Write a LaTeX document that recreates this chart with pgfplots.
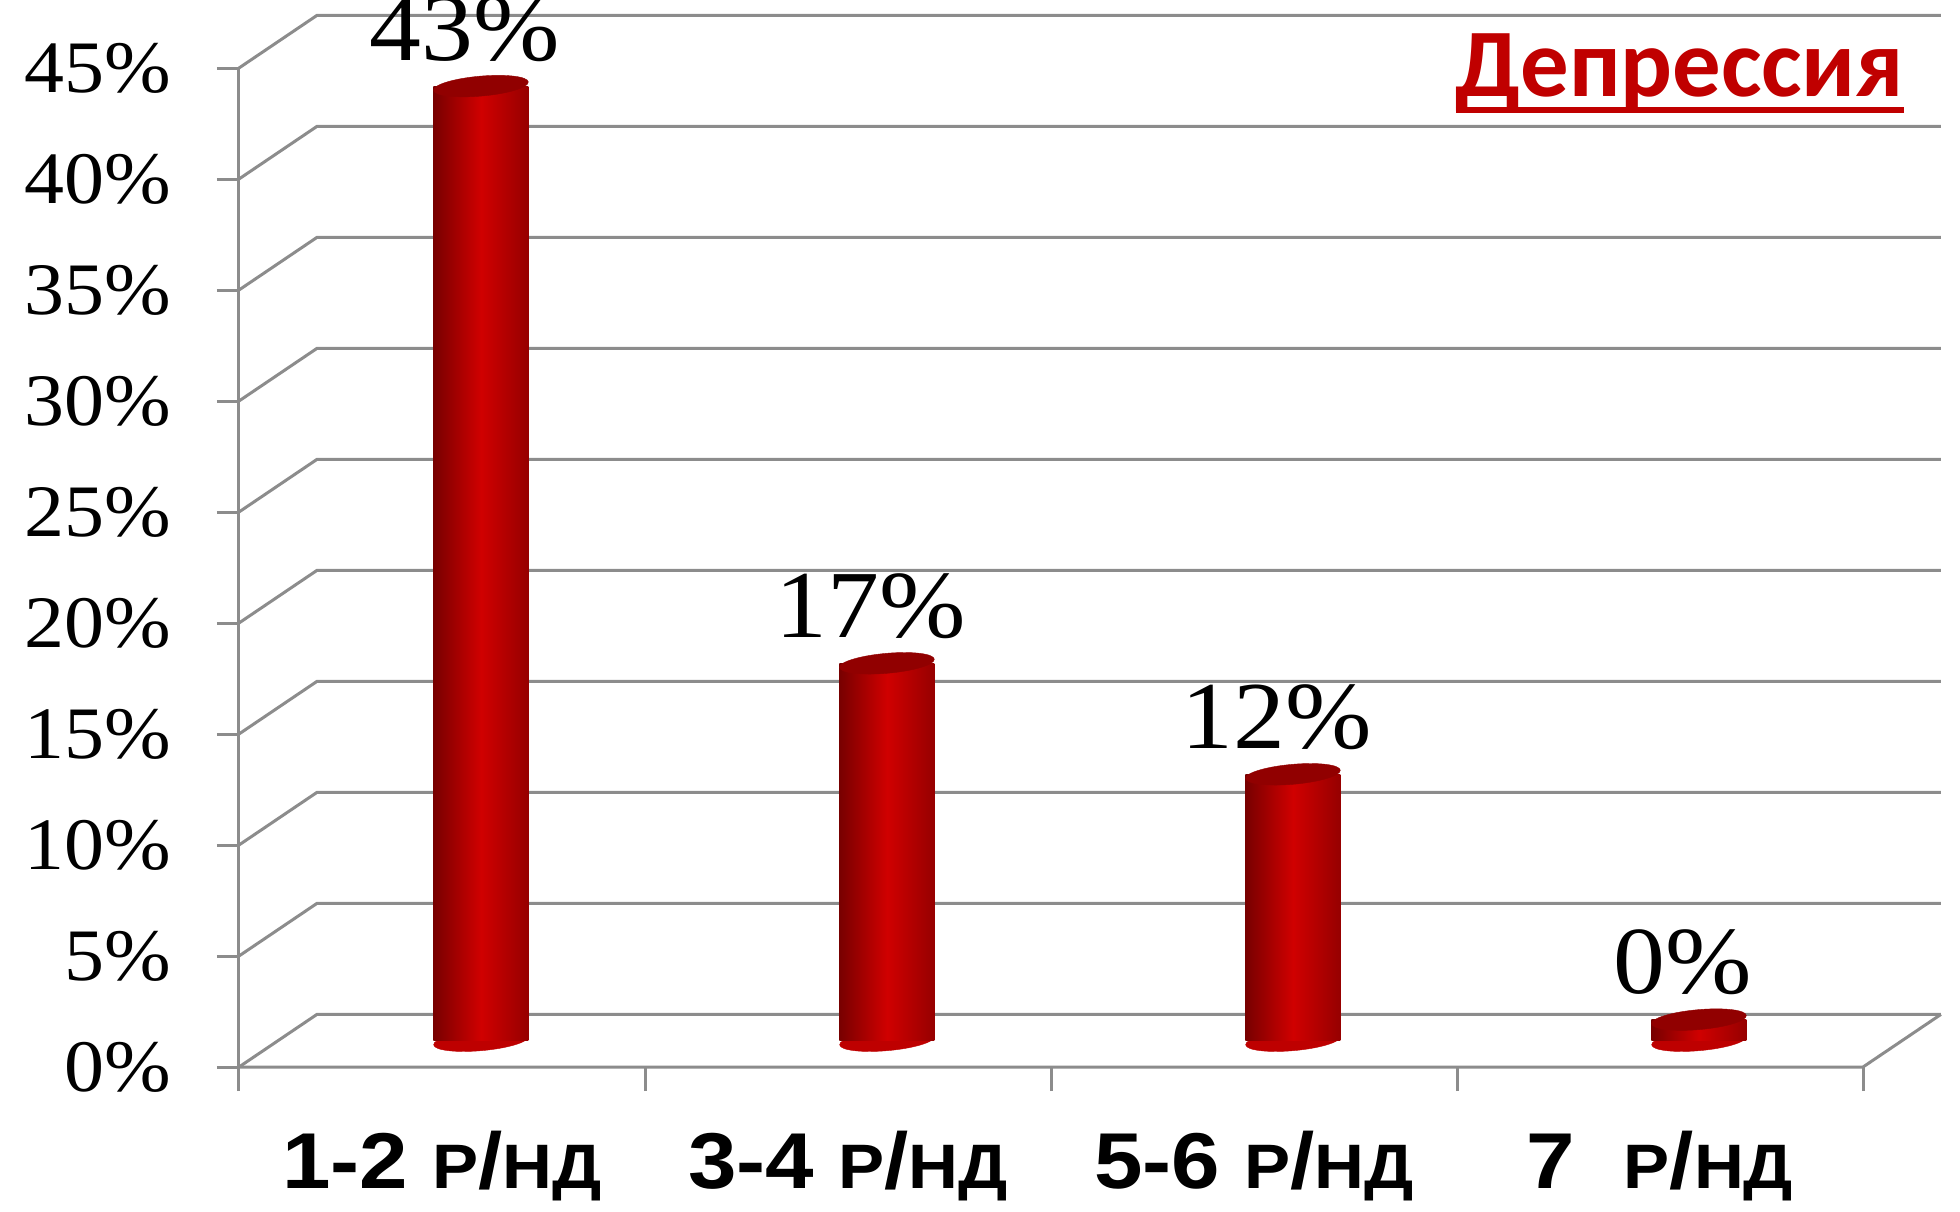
\documentclass[border=0pt]{standalone}
\usepackage{pgfplots}
\pgfplotsset{compat=1.18}
\usepackage{pgfplotstable}
\usepackage{fontspec}
\setmainfont{Liberation Serif}[FakeStretch=1.08]
\newfontfamily\catfont{Liberation Sans}[FakeStretch=1.1]
\newfontfamily\titlefont{Carlito}
\definecolor{gridc}{RGB}{140,140,140}
\definecolor{barL}{RGB}{120,0,0}
\definecolor{barM}{RGB}{208,0,0}
\definecolor{barR}{RGB}{150,0,0}
\definecolor{barTop}{RGB}{145,0,0}
\definecolor{barBot}{RGB}{190,0,0}
\definecolor{titlered}{RGB}{192,0,0}

\pgfplotstableread{
x y lbl
0 43 43
1 17 17
2 12 12
3 0.95 0
}\datatable

\newcommand{\sm}[1]{{\fontsize{15.7}{18}\selectfont #1}}
\newcommand{\ul}[1]{\setbox0\hbox{#1}\rlap{\rule[-4.2pt]{\wd0}{1.65pt}}\box0}

\begin{document}
\begin{tikzpicture}
\begin{axis}[
  x=101.5pt, y=5.55pt,
  xmin=-0.596, xmax=3.596, ymin=-1.185, ymax=46.185,
  clip=false,
  clip marker paths=true,
  axis line style={draw=none},
  tick align=outside,
  major tick length=5.5pt,
  ytick={-1.185,3.815,8.815,13.815,18.815,23.815,28.815,33.815,38.815,43.815},
  yticklabels={0\%,5\%,10\%,15\%,20\%,25\%,30\%,35\%,40\%,45\%},
  ytick pos=left,
  ytick style={draw=gridc, line width=0.75pt},
  yticklabel style={font=\fontsize{18.5}{20}\selectfont, anchor=east, inner sep=0pt, xshift=-11.3pt},
  xtick={-0.096,0.904,1.904,2.904},
  xticklabels={{1-2 \sm{Р}/\sm{НД}},{3-4 \sm{Р}/\sm{НД}},{5-6 \sm{Р}/\sm{НД}},{7\ \ \sm{Р}/\sm{НД}}},
  xtick pos=bottom,
  xtick style={draw=none},
  xticklabel style={font=\catfont\bfseries\fontsize{19.8}{22}\selectfont, anchor=base, inner sep=0pt, yshift=-24.75pt},
  extra x ticks={-0.596,0.404,1.404,2.404,3.404},
  extra x tick labels={},
  extra x tick style={major tick length=6pt, xtick style={draw=gridc, line width=0.75pt}},
]
\coordinate (BL) at (rel axis cs:0,0);
% back wall and side wall grid lines
\pgfplotsinvokeforeach{0,5,10,15,20,25,30,35,40,45}{
  \draw[gridc, line width=0.75pt] (axis cs:-0.596,#1-1.185) -- (axis cs:-0.404,#1+1.185) -- (axis cs:3.596,#1+1.185);
}
% floor
\draw[gridc, line width=0.75pt] (axis cs:-0.596,-1.185) -- (axis cs:3.404,-1.185) -- (axis cs:3.596,1.185);
% front vertical axis
\draw[gridc, line width=0.75pt] (axis cs:-0.596,-1.185) -- (axis cs:-0.596,43.815);

% bottom caps
\addplot[only marks, mark=*, mark size=11.875pt,
  mark options={draw=barBot, fill=barBot, line width=0.1pt, rotate=5, yscale=0.21}]
  table[x=x, y expr=0] {\datatable};
% cylinder bodies
\addplot[ybar, bar width=23.75pt, bar shift=0pt, draw=none, left color=barL, right color=barR, middle color=barM, restrict x to domain=-0.1:0.1] table[x=x,y=y] {\datatable};
\addplot[ybar, bar width=23.75pt, bar shift=0pt, draw=none, left color=barL, right color=barR, middle color=barM, restrict x to domain=0.9:1.1] table[x=x,y=y] {\datatable};
\addplot[ybar, bar width=23.75pt, bar shift=0pt, draw=none, left color=barL, right color=barR, middle color=barM, restrict x to domain=1.9:2.1] table[x=x,y=y] {\datatable};
\addplot[ybar, bar width=23.75pt, bar shift=0pt, draw=none, left color=barL, right color=barR, middle color=barM, restrict x to domain=2.9:3.1] table[x=x,y=y] {\datatable};
% top caps with value labels
\addplot[only marks, mark=*, mark size=11.875pt,
  mark options={draw=barTop, fill=barTop, line width=0.1pt, rotate=5, yscale=0.21},
  point meta=explicit symbolic,
  nodes near coords={\pgfplotspointmeta\%},
  every node near coord/.append style={font=\fontsize{24}{26}\selectfont, text=black, anchor=base, inner sep=0pt, yshift=6.5pt, xshift=-4pt}]
  table[x=x, y=y, meta=lbl] {\datatable};
\end{axis}
\node[anchor=base west, inner sep=0pt, text=titlered, font=\titlefont\bfseries\fontsize{24.2}{28}\selectfont] at ([xshift=304pt,yshift=242.6pt]BL) {\ul{Депрессия}};
\pgfresetboundingbox
\path ([xshift=-59.75pt,yshift=-36pt]BL) rectangle ([xshift=430.25pt,yshift=266.75pt]BL);
\end{tikzpicture}
\end{document}
